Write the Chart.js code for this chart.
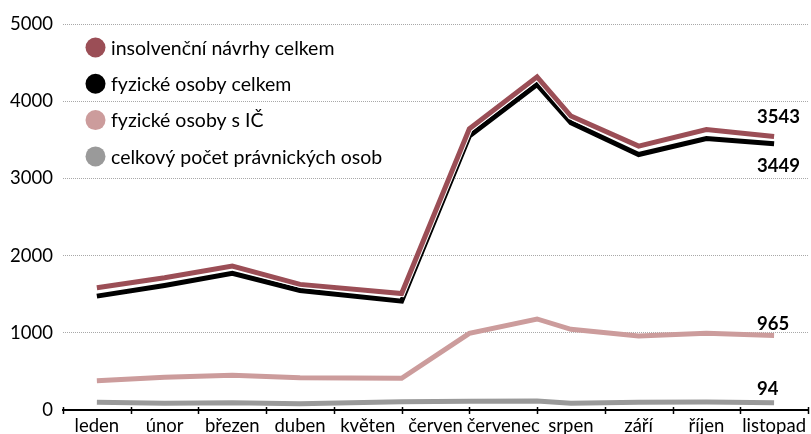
<!DOCTYPE html>
<html><head><meta charset="utf-8">
<script src="https://cdn.jsdelivr.net/npm/chart.js@4"></script>
<style>html,body{margin:0;padding:0;background:#fff}#wrap{width:811px;height:434px;position:relative}</style>
</head><body><div id="wrap"><canvas id="c"></canvas></div>
<script>
const months = ['leden','únor','březen','duben','květen','červen','červenec','srpen','září','říjen','listopad'];
const monthPosition = [0,1,2,3,4.5,5.5,6.5,7,8,9,10];
const insolvencniNavrhy = [1583,1713,1865,1627,1509,3643,4316,3808,3418,3634,3543];
const fyzickeOsoby = [1475,1613,1770,1548,1410,3548,4216,3721,3309,3516,3449];
const fyzickeOsobyIC = [380,423,449,418,410,993,1179,1045,958,993,965];
const pravnickeOsoby = [100,87,95,82,108,112,115,87,100,104,94];
const yTicks = [0,1000,2000,3000,4000,5000];
const seriesNames = ['insolvenční návrhy celkem','fyzické osoby celkem','fyzické osoby s IČ','celkový počet právnických osob'];

const colors = ['#9b4e56','#000000','#cc9c9c','#9a9a9a'];
const labelOffsets = {0:-13, 2:28, 3:-6, 4:-8};

Chart.defaults.font.family = 'Lato';
const pts = arr => arr.map((v,i)=>({x: monthPosition[i], y: v}));
const line = (label, data, color, order, width) => ({
  label, data: pts(data), borderColor: color, backgroundColor: color,
  borderWidth: width, pointRadius: 0, tension: 0, order, xAxisID: 'xPos',
  borderJoinStyle: 'miter', borderCapStyle: 'butt', fill: false
});

const extras = {
  id: 'extras',
  afterDatasetsDraw(chart) {
    const ctx = chart.ctx, ca = chart.chartArea, xs = chart.scales.xPos;
    ctx.save();
    ctx.strokeStyle = '#000'; ctx.lineWidth = 1.5;
    for (let i = 0; i <= months.length; i++) {
      const x = Math.round(xs.getPixelForValue(i - 0.5)) + 0.5;
      ctx.beginPath(); ctx.moveTo(x, ca.bottom - 3); ctx.lineTo(x, ca.bottom + 4); ctx.stroke();
    }
    ctx.font = 'bold 18.5px Lato'; ctx.fillStyle = '#000';
    ctx.textAlign = 'left'; ctx.textBaseline = 'alphabetic';
    Object.keys(labelOffsets).forEach(k => {
      const idx = +k, meta = chart.getDatasetMeta(idx);
      const data = chart.data.datasets[idx].data;
      const p = meta.data[data.length - 1];
      ctx.fillText(String(data[data.length - 1].y), p.x - 17, p.y + labelOffsets[k]);
    });
    ctx.font = '19.5px Lato'; ctx.textBaseline = 'middle';
    seriesNames.forEach((name, i) => {
      const cy = 47.5 + i * 36.3;
      ctx.fillStyle = colors[i];
      ctx.beginPath(); ctx.arc(ca.left + 32.5, cy, 10, 0, Math.PI * 2); ctx.fill();
      ctx.fillStyle = '#000';
      ctx.fillText(name, ca.left + 48, cy + 1);
    });
    ctx.restore();
  }
};

new Chart(document.getElementById('c'), {
  type: 'line',
  data: {
    labels: months,
    datasets: [
      line(seriesNames[0], insolvencniNavrhy, colors[0], 0, 5),
      line('', insolvencniNavrhy, '#ffffff', 1, 7),
      line(seriesNames[1], fyzickeOsoby, colors[1], 2, 5),
      line(seriesNames[2], fyzickeOsobyIC, colors[2], 3, 5),
      line(seriesNames[3], pravnickeOsoby, colors[3], 4, 5)
    ]
  },
  options: {
    responsive: true, maintainAspectRatio: false, animation: false,
    layout: { padding: { top: 24, right: 0, left: 0, bottom: 0 } },
    plugins: { legend: { display: false }, tooltip: { enabled: false } },
    scales: {
      x: {
        type: 'category', labels: months, offset: true,
        grid: { offset: true, drawOnChartArea: false, drawTicks: false },
        border: { display: true, color: '#000', width: 2 },
        ticks: { padding: 5, color: '#000', font: { size: 18.5 }, maxRotation: 0, autoSkip: false },
        afterFit: s => { s.height = 24; }
      },
      xPos: { type: 'linear', min: -0.5, max: 10.5, display: false },
      y: {
        min: 0, max: 5000,
        afterBuildTicks: s => { s.ticks = yTicks.map(v => ({ value: v })); },
        ticks: { padding: 10, color: '#000', font: { size: 18.5 }, callback: v => String(v) },
        grid: { drawTicks: false, lineWidth: 1,
          color: c => (c.tick && c.tick.value === 0) ? 'rgba(0,0,0,0)' : '#a8a8a8' },
        border: { display: false, dash: [1, 1] },
        afterFit: s => { s.width = 63; }
      }
    }
  },
  plugins: [extras]
});
</script></body></html>
